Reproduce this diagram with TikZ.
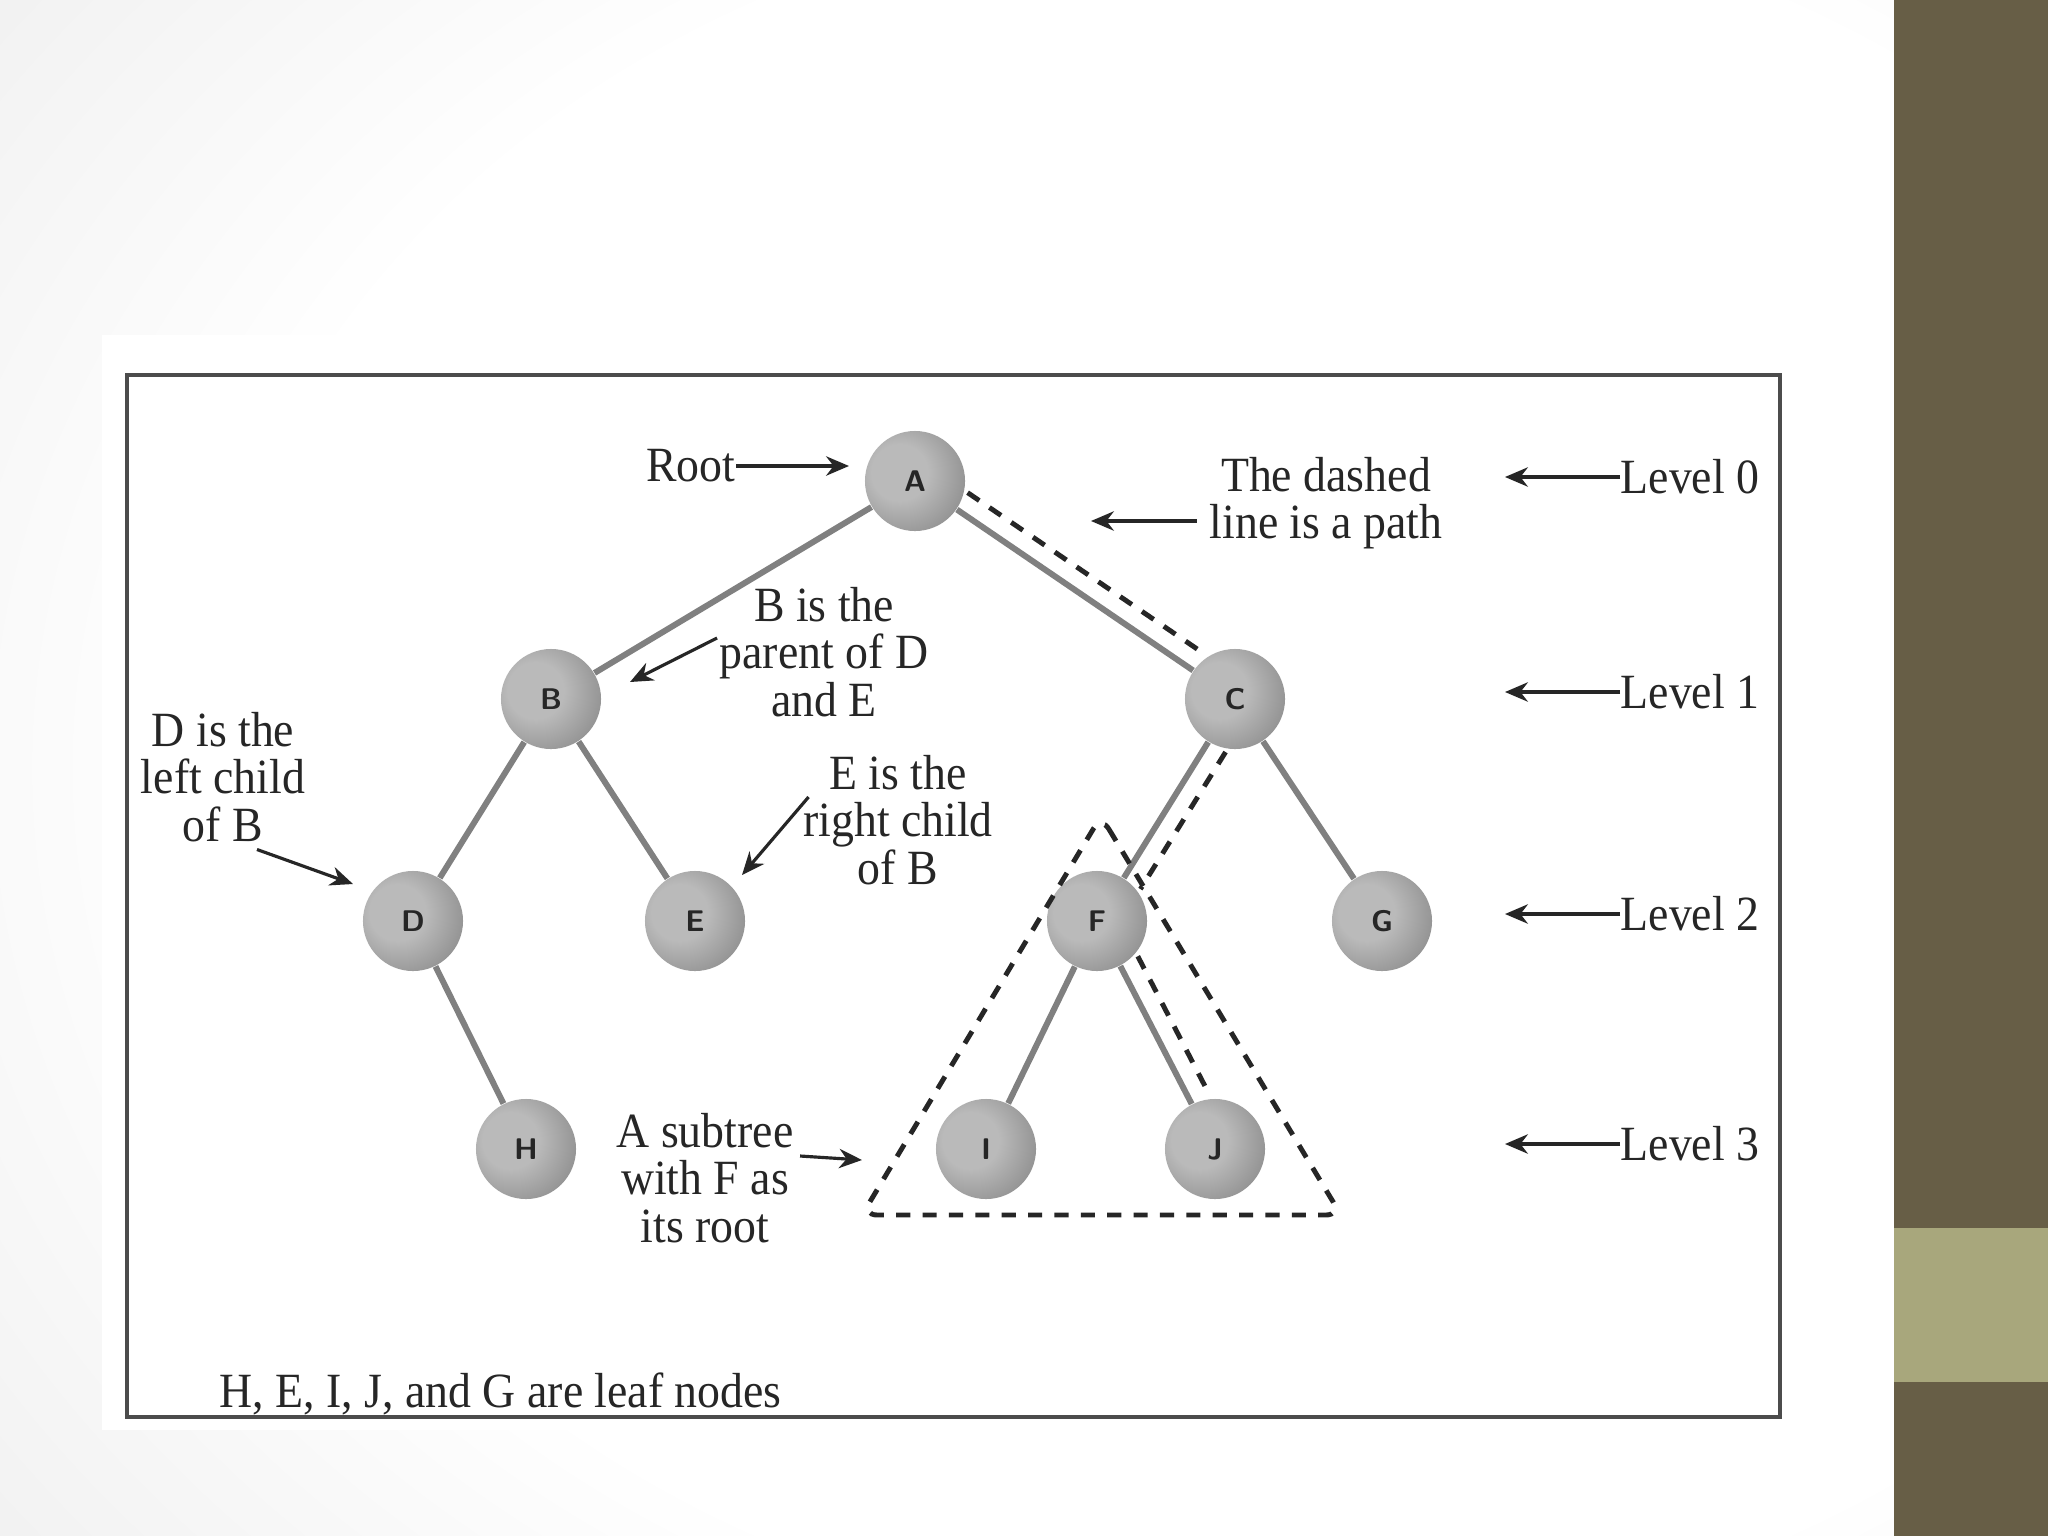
\documentclass[tikz,border=0pt]{standalone}
\usepackage{fontspec}
\setmainfont{Liberation Serif}[FakeStretch=0.93]
\usetikzlibrary{calc,arrows.meta,shadings}
\definecolor{slideolive}{RGB}{103,94,70}
\definecolor{slideband}{RGB}{168,167,124}
\definecolor{edgegray}{RGB}{128,128,128}
\definecolor{inkgray}{RGB}{38,38,38}
\colorlet{ballhi}{black!27}
\colorlet{ballmid}{black!42}
\colorlet{ballrim}{black!62}
\colorlet{bgedge}{black!14}
\pgfdeclareradialshading{nodeball}{\pgfpoint{-9bp}{5bp}}{%
  color(0bp)=(ballhi); color(14bp)=(ballhi); color(32bp)=(ballmid);
  color(50bp)=(ballrim); color(100bp)=(ballrim)}
\pgfdeclareradialshading{slidebg}{\pgfpoint{12bp}{0bp}}{%
  color(0bp)=(white); color(28bp)=(white); color(62bp)=(bgedge); color(100bp)=(bgedge)}
\tikzset{
  treenode/.style={circle,minimum size=1cm,inner sep=0pt,shading=nodeball,
    font=\sffamily\bfseries\fontsize{8.5}{8.5}\selectfont,text=inkgray},
  treeedge/.style={draw=edgegray,line width=1.7pt},
  pathdash/.style={draw=inkgray,line width=1.4pt,dash pattern=on 4pt off 3.5pt},
  note/.style={font=\fontsize{14}{13.5}\selectfont,align=center,inner sep=0pt,text=inkgray},
  callout/.style={draw=inkgray,line width=0.9pt,-{Stealth[length=6.5pt,width=5.5pt]}},
}
\newcommand{\levelmark}[2]{%
  \node[note,anchor=west] (lv#1) at (1620,#2) {Level #1};
  \coordinate (lv#1tip) at (1505,#2);
  \draw[callout] (lv#1.west) -- (lv#1tip);}
\newcommand{\offsetdash}[2]{%
  \draw[pathdash,shorten <=0.5cm,shorten >=0.5cm]
    ($(#1)!0.2cm!90:(#2)$) -- ($(#2)!0.2cm!-90:(#1)$);}

\begin{document}
\begin{tikzpicture}[x=0.01cm,y=-0.01cm]
        \useasboundingbox (0,0) rectangle (2048,1536);
        \shade[shading=slidebg] (0,0) rectangle (1894,1536);
        \fill[white] (102,335) rectangle (1809,1430);
        \fill[slideolive] (1894,0) rectangle (2048,1536);
        \fill[slideband] (1894,1228) rectangle (2048,1382);
        \draw[black!70,line width=1pt] (127,375) rectangle (1780,1417);
        \node[treenode] (A) at (915,481) {A};
        \node[treenode] (B) at (551,699) {B};
        \node[treenode] (C) at (1235,699) {C};
        \node[treenode] (D) at (413,921) {D};
        \node[treenode] (E) at (695,921) {E};
        \node[treenode] (F) at (1097,921) {F};
        \node[treenode] (G) at (1382,921) {G};
        \node[treenode] (H) at (526,1149) {H};
        \node[treenode] (I) at (986,1149) {I};
        \node[treenode] (J) at (1215,1149) {J};
        \foreach \p/\c in {A/B,A/C,B/D,B/E,C/F,C/G,D/H,F/I,F/J}
          \draw[treeedge] (\p) -- (\c);
        \offsetdash{A}{C}\offsetdash{C}{F}\offsetdash{F}{J}
        \coordinate (subtop) at (1101,816);
        \coordinate (subright) at (1341,1215);
        \coordinate (subleft) at (862,1215);
        \draw[pathdash,rounded corners=0.15cm] (subtop) -- (subright) -- (subleft) -- cycle;
        \levelmark{0}{477}\levelmark{1}{692}\levelmark{2}{914}\levelmark{3}{1144}
        \node[note,anchor=east] (rootnote) at (736,466) {Root};
        \coordinate (roottip) at (849,466);
        \draw[callout] (rootnote.east) -- (roottip);
        \node[note] (pathnote) at (1326,503) {The dashed\\line is a path};
        \coordinate (pathtip) at (1091,521);
        \draw[callout] ([shift={(-12,18)}]pathnote.west) -- (pathtip);
        \node[note] (bnote) at (824,652) {B is the\\parent of D\\and E};
        \coordinate (btip) at (630,682);
        \draw[callout] ([shift={(-2,-14)}]bnote.west) -- (btip);
        \node[note] (dnote) at (223,777) {D is the\\left child\\of B};
        \coordinate (dtip) at (353,884);
        \draw[callout] ([shift={(34,7)}]dnote.south) -- (dtip);
        \node[note] (enote) at (898,820) {E is the\\right child\\of B};
        \coordinate (etip) at (742,875);
        \draw[callout] ([shift={(6,-23)}]enote.west) -- (etip);
        \node[note] (subnote) at (705,1178) {A subtree\\with F as\\its root};
        \coordinate (subtip) at (862,1160);
        \draw[callout] ([shift={(6,-22)}]subnote.east) -- (subtip);
        \node[note,anchor=west] (leafnote) at (219,1394) {H, E, I, J, and G are leaf nodes};
      \end{tikzpicture}
\end{document}
